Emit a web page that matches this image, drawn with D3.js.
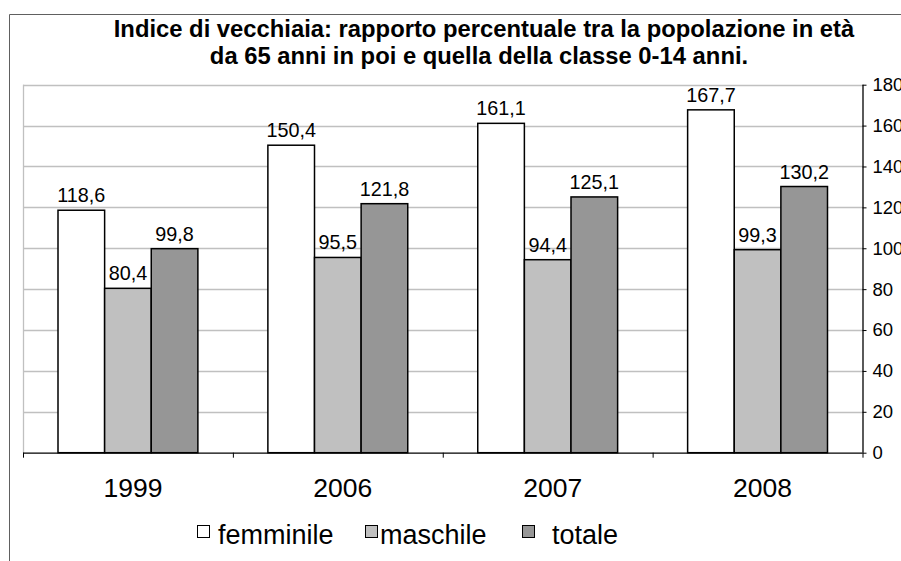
<!DOCTYPE html>
<html><head><meta charset="utf-8">
<script src="https://cdn.jsdelivr.net/npm/d3@7"></script>
<style>body{margin:0;background:#fff}svg{display:block;font-family:"Liberation Sans",Arial,sans-serif}</style>
</head><body>
<script>
const years = ["1999","2006","2007","2008"];
const seriesNames = ["femminile","maschile","totale"];
const femminile = [118.6,150.4,161.1,167.7];
const maschile = [80.4,95.5,94.4,99.3];
const totale = [99.8,121.8,125.1,130.2];
const yTicks = [0,20,40,60,80,100,120,140,160,180];
const titleLines = ["Indice di vecchiaia: rapporto percentuale tra la popolazione in età","da 65 anni in poi e quella della classe 0-14 anni."];

const W=901,H=561;
const colors={femminile:"#ffffff",maschile:"#c0c0c0",totale:"#969696"};
const seriesVals={femminile,maschile,totale};
const svg=d3.select("body").append("svg").attr("width",W).attr("height",H);

// outer frame
svg.append("path").attr("d","M9.5,561 V14.5 H901").attr("fill","none").attr("stroke","#606060").attr("stroke-width",1);

// title
svg.append("text").attr("x",484).attr("y",36.5).attr("text-anchor","middle")
  .attr("font-weight","bold").attr("font-size",23.8).text(titleLines[0]);
svg.append("text").attr("x",479).attr("y",64).attr("text-anchor","middle")
  .attr("font-weight","bold").attr("font-size",23.8).text(titleLines[1]);

const x0=23,x1=862.5,yTop=84.7,yBot=452.7;
const x=d3.scaleBand().domain(years).range([x0,x1]).paddingInner(0).paddingOuter(0);
const inner=d3.scaleBand().domain(seriesNames).range([35,x.bandwidth()-35]).paddingOuter(0).paddingInner(0);
const y=d3.scaleLinear().domain([0,180]).range([yBot,yTop]);

// gridlines
svg.append("g").selectAll("line").data(yTicks.filter(d=>d>0)).join("line")
  .attr("x1",x0).attr("x2",x1).attr("y1",d=>Math.round(y(d))+0.5).attr("y2",d=>Math.round(y(d))+0.5)
  .attr("stroke","#c0c0c0").attr("stroke-width",1.3);
// plot area left border
svg.append("line").attr("x1",x0+0.5).attr("x2",x0+0.5).attr("y1",yTop).attr("y2",yBot).attr("stroke","#c0c0c0").attr("stroke-width",1.3);

// bars
const g=svg.append("g");
years.forEach((yr,i)=>{
  seriesNames.forEach(s=>{
    const v=seriesVals[s][i];
    const bx=x(yr)+inner(s);
    g.append("rect").attr("x",bx).attr("y",y(v)).attr("width",inner.bandwidth()).attr("height",y(0)-y(v))
      .attr("fill",colors[s]).attr("stroke","#000").attr("stroke-width",1.5);
    g.append("text").attr("x",bx+inner.bandwidth()/2).attr("y",y(v)-8).attr("text-anchor","middle")
      .attr("font-size",19.8).text(String(v).replace(".",","));
  });
});

// bottom axis
const xa=svg.append("g").attr("transform",`translate(0,${yBot})`)
  .call(d3.axisBottom(x).tickSize(0).tickFormat(d=>d));
xa.select(".domain").attr("stroke","#000").attr("stroke-width",1.3).attr("d",`M${x0},0.5H${x1}`);
xa.selectAll(".tick text").attr("font-size",26.5).attr("font-family","Liberation Sans,Arial,sans-serif")
  .attr("fill","#000").attr("dy",0).attr("y",44).attr("dx",5);
svg.append("g").selectAll("line").data(years.map(d=>x(d)).concat([x1])).join("line")
  .attr("x1",d=>d+0.5).attr("x2",d=>d+0.5).attr("y1",yBot).attr("y2",yBot+5).attr("stroke","#000");

// right axis
const ya=svg.append("g").attr("transform",`translate(${x1},0)`)
  .call(d3.axisRight(y).tickValues(yTicks).tickSize(4).tickPadding(6));
ya.select(".domain").attr("stroke","#000").attr("stroke-width",1.3).attr("d",`M0.5,${yTop}V${yBot}`);
ya.selectAll(".tick line").attr("stroke","#000");
ya.selectAll(".tick text").attr("font-size",18.5).attr("font-family","Liberation Sans,Arial,sans-serif").attr("fill","#000");

// legend
const legPos=[{sq:197,tx:218},{sq:365,tx:380},{sq:522,tx:552}];
seriesNames.forEach((s,i)=>{
  svg.append("rect").attr("x",legPos[i].sq+0.5).attr("y",525.5).attr("width",12).attr("height",12)
    .attr("fill",colors[s]).attr("stroke","#000").attr("stroke-width",1);
  svg.append("text").attr("x",legPos[i].tx).attr("y",544).attr("font-size",27).text(s);
});
</script>
</body></html>
